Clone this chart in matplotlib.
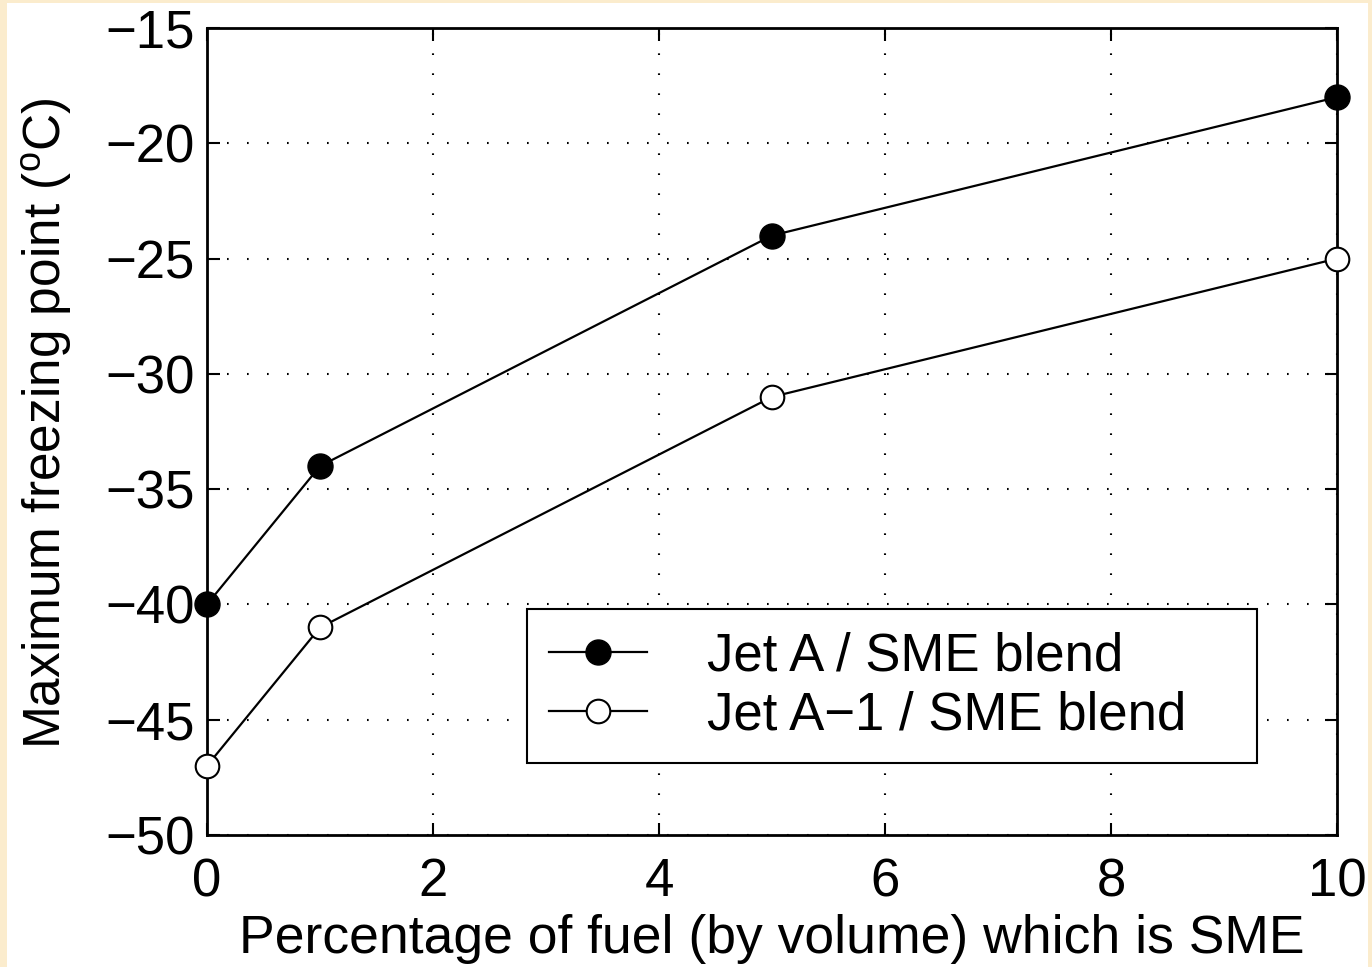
import matplotlib
matplotlib.use('Agg')
import matplotlib.pyplot as plt
from matplotlib.patches import Rectangle

# data
pct_sme = [0, 1, 5, 10]
jet_a = [-40, -34, -24, -18]
jet_a1 = [-47, -41, -31, -25]
labels = ['Jet A / SME blend', 'Jet A\u22121 / SME blend']
xticks = [0, 2, 4, 6, 8, 10]
yticks = [-50, -45, -40, -35, -30, -25, -20, -15]

plt.rcParams['font.family'] = ['Liberation Sans', 'DejaVu Sans']
plt.rcParams['mathtext.fontset'] = 'custom'
plt.rcParams['mathtext.rm'] = 'Liberation Sans'
plt.rcParams['axes.unicode_minus'] = True

W, H = 1372, 967
fig = plt.figure(figsize=(W / 100, H / 100), dpi=100, facecolor='#fbeccd')
# white page area inside the beige frame
fig.patches.append(Rectangle((7 / W, 0), (1368 - 7) / W, (H - 3) / H,
                             transform=fig.transFigure, facecolor='white',
                             edgecolor='none', zorder=-10))

ax = fig.add_axes([207 / W, 1 - 835 / H, 1130 / W, 807 / H])
ax.set_zorder(1)

ax.plot(pct_sme, jet_a, '-o', color='black', lw=1.6, ms=18,
        mfc='black', mec='black', label=labels[0], clip_on=False, zorder=5)
ax.plot(pct_sme, jet_a1, '-o', color='black', lw=1.6, ms=17,
        mfc='white', mec='black', mew=1.5, label=labels[1], clip_on=False, zorder=5)

ax.set_xlim(0, 10)
ax.set_ylim(-50, -15)
ax.set_xticks(xticks)
ax.set_yticks(yticks)
ax.tick_params(direction='in', length=9, width=1.5, labelsize=38,
               top=True, right=True)
ax.tick_params(axis='x', pad=16)
ax.tick_params(axis='y', pad=9)
for s in ax.spines.values():
    s.set_linewidth(2)

ax.grid(True, color='black', linewidth=1.5, linestyle=(0, (0.8, 8.8)))
ax.set_axisbelow(True)

ax.set_xlabel('Percentage of fuel (by volume) which is SME', fontsize=38.5, labelpad=5)
ax.set_ylabel(r'Maximum freezing point ($^{\rm o}$C)', fontsize=37)
ax.yaxis.set_label_coords(-0.118, 0.51)

leg = ax.legend(loc='center', bbox_to_anchor=(0.283, 0.0867, 0.646, 0.196),
                mode='expand', fontsize=38, frameon=True, fancybox=False,
                edgecolor='black', framealpha=1, handlelength=1.85,
                handletextpad=1.15, borderpad=0.42, labelspacing=0.18,
                borderaxespad=0)
leg.get_frame().set_linewidth(1.5)

fig.savefig('out.png', dpi=100, facecolor=fig.get_facecolor())
